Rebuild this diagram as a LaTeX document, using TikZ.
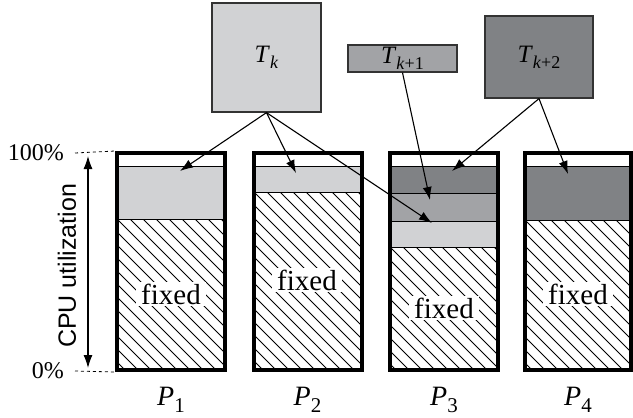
\documentclass[tikz,border=0pt]{standalone}
\usepackage{fontspec}
\setmainfont{Liberation Serif}
\newfontfamily\cpusans{Liberation Sans}
\usetikzlibrary{arrows.meta}
\definecolor{lgray}{HTML}{D1D2D4}
\definecolor{mgray}{HTML}{A2A3A6}
\definecolor{dgray}{HTML}{808285}
\newcommand{\mylow}[2]{\raisebox{#1}{#2}}
\newcommand{\hatchbox}[3]{%
  \begin{scope}
    \clip (#1,#3) rectangle (#2,370);
    \foreach \t in {-260,-247,...,125} \draw[hatchline] ({#1+\t},#3) -- ++(260,260);
  \end{scope}}
\begin{document}
\begin{tikzpicture}[x=1pt,y=-1pt,
  hatchline/.style={line width=1pt,black},
  seg/.style={draw=black,line width=0.9pt},
  procbox/.style={draw=black,line width=4pt,minimum width=108pt,minimum height=217pt,inner sep=0pt},
  taskbox/.style={draw=black!80,line width=1.2pt,inner sep=0pt,font=\fontsize{25}{25}\selectfont},
  fixedlbl/.style={fill=white,inner xsep=5pt,inner ysep=2pt,font=\fontsize{29}{29}\selectfont},
  plbl/.style={anchor=base,inner sep=0pt,font=\fontsize{28}{28}\selectfont},
  pct/.style={anchor=east,inner sep=0pt,font=\fontsize{24}{24}\selectfont},
  arr/.style={line width=1.1pt,-{Latex[length=13pt,width=9pt]}},
  dblarr/.style={line width=1.1pt,{Latex[length=13pt,width=9pt]}-{Latex[length=13pt,width=9pt]}},
  dashl/.style={dashed,line width=0.8pt}]
\useasboundingbox (0,0) rectangle (633,418);

% ---- processor P1 ----
\draw[seg,fill=lgray] (117,166) rectangle (225,219);
\hatchbox{117}{225}{219}
\draw[seg] (117,219) -- (225,219);
% ---- processor P2 ----
\draw[seg,fill=lgray] (254,166) rectangle (361,192);
\hatchbox{254}{361}{192}
\draw[seg] (254,192) -- (361,192);
% ---- processor P3 ----
\draw[seg,fill=dgray] (390,166) rectangle (498,193);
\draw[seg,fill=mgray] (390,193) rectangle (498,221);
\draw[seg,fill=lgray] (390,221) rectangle (498,247);
\hatchbox{390}{498}{247}
\draw[seg] (390,247) -- (498,247);
% ---- processor P4 ----
\draw[seg,fill=dgray] (525,166) rectangle (631,220);
\hatchbox{525}{631}{220}
\draw[seg] (525,220) -- (631,220);

% fixed labels
\node[fixedlbl] (f1) at (171,294) {fixed};
\node[fixedlbl] (f2) at (307,280) {fixed};
\node[fixedlbl] (f3) at (444,308) {fixed};
\node[fixedlbl] (f4) at (578,294) {fixed};

% processor outlines
\node[procbox] (p1) at (171,261.5) {};
\node[procbox] (p2) at (307.5,261.5) {};
\node[procbox] (p3) at (444,261.5) {};
\node[procbox,minimum width=106pt] (p4) at (578,261.5) {};

% processor labels
\node[plbl] (l1) at (171,405) {\textit{P}\mylow{-0.25em}{\fontsize{21}{21}\selectfont 1}};
\node[plbl] (l2) at (307.5,405) {\textit{P}\mylow{-0.25em}{\fontsize{21}{21}\selectfont 2}};
\node[plbl] (l3) at (444,405) {\textit{P}\mylow{-0.25em}{\fontsize{21}{21}\selectfont 3}};
\node[plbl] (l4) at (578,405) {\textit{P}\mylow{-0.25em}{\fontsize{21}{21}\selectfont 4}};

% task boxes
\node[taskbox,fill=lgray,minimum width=109pt,minimum height=109pt] (tk) at (266.5,57.5)
  {\textit{T}\mylow{-0.25em}{\fontsize{18}{18}\selectfont\textit{k}}};
\node[taskbox,fill=mgray,minimum width=109pt,minimum height=27pt] (tk1) at (402.5,58.5)
  {\textit{T}\mylow{-0.25em}{\fontsize{18}{18}\selectfont\textit{k}+1}};
\node[taskbox,fill=dgray,minimum width=108pt,minimum height=82pt] (tk2) at (539,57)
  {\textit{T}\mylow{-0.25em}{\fontsize{18}{18}\selectfont\textit{k}+2}};

% arrow targets
\coordinate (a1) at (180,171);
\coordinate (a2) at (296,173);
\coordinate (a3) at (432,223);
\coordinate (b1) at (430,200);
\coordinate (c1) at (452,171);
\coordinate (c2) at (568,174);
\draw[arr] (tk.south) -- (a1);
\draw[arr] (tk.south) -- (a2);
\draw[arr] (tk.south) -- (a3);
\draw[arr] (tk1.south) -- (b1);
\draw[arr] (tk2.south) -- (c1);
\draw[arr] (tk2.south) -- (c2);

% axis
\node[pct] (hund) at (64,153) {100\%};
\node[pct] (zero) at (64,371) {0\%};
\coordinate (d1) at (75,153);
\coordinate (d2) at (75,371);
\draw[dashl] (d1) -- (p1.north west);
\draw[dashl] (d2) -- (p1.south west);
\coordinate (ax1) at (88,156);
\coordinate (ax2) at (88,368);
\draw[dblarr] (ax1) -- (ax2);
\node[rotate=90,font=\cpusans\fontsize{25}{25}\selectfont] (cpu) at (67,266) {CPU utilization};
\end{tikzpicture}
\end{document}
